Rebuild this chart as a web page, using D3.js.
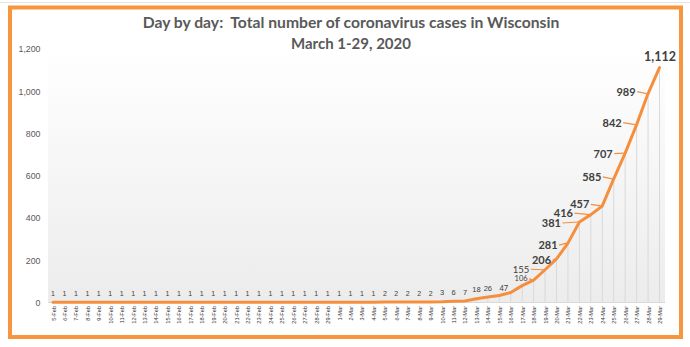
<!DOCTYPE html>
<html><head><meta charset="utf-8">
<script src="https://cdn.jsdelivr.net/npm/d3@7"></script>
<style>
html,body{margin:0;padding:0;background:#fff;}
svg{display:block;}
text.title{white-space:pre;}
</style></head>
<body>
<svg id="chart" width="690" height="347"></svg>
<script>
// ---------------- data ----------------
const titleLines = ["Day by day:  Total number of coronavirus cases in Wisconsin", "March 1-29, 2020"];
const dates = ["5-Feb","6-Feb","7-Feb","8-Feb","9-Feb","10-Feb","11-Feb","12-Feb","13-Feb","14-Feb",
  "15-Feb","16-Feb","17-Feb","18-Feb","19-Feb","20-Feb","21-Feb","22-Feb","23-Feb","24-Feb",
  "25-Feb","26-Feb","27-Feb","28-Feb","29-Feb","1-Mar","2-Mar","3-Mar","4-Mar","5-Mar",
  "6-Mar","7-Mar","8-Mar","9-Mar","10-Mar","11-Mar","12-Mar","13-Mar","14-Mar","15-Mar",
  "16-Mar","17-Mar","18-Mar","19-Mar","20-Mar","21-Mar","22-Mar","23-Mar","24-Mar","25-Mar",
  "26-Mar","27-Mar","28-Mar","29-Mar"];
const cases = [1,1,1,1,1,1,1,1,1,1,
  1,1,1,1,1,1,1,1,1,1,
  1,1,1,1,1,1,1,1,1,2,
  2,2,2,2,3,6,7,18,26,33,
  47,80,106,155,206,281,381,416,457,585,
  707,842,989,1112];
const unlabeled = ["15-Mar","17-Mar"];
const yTicks = [0,200,400,600,800,1000,1200];

// ---------------- layout / style ----------------
const W = 690, H = 347;
const svg = d3.select("#chart");
const FONT = "'Liberation Sans', Arial, sans-serif";
const TFONT = "Lato, 'Open Sans', sans-serif";
const orange = "#F58F3D";

// label placement for the callout labels (offsets from the point, font size)
const callouts = {
  "16-Mar": {dx:-7, dy:-4, fs:7.5, w:"normal"},
  "18-Mar": {dx:-12.5, dy:-1.5, fs:7.5, w:"normal", leader:true},
  "19-Mar": {dx:-24, dy:-0.5, fs:9.5, w:"normal", leader:true},
  "20-Mar": {dx:-15, dy:1, fs:11, w:"bold", leader:true},
  "21-Mar": {dx:-20, dy:2, fs:11, w:"bold", leader:true},
  "22-Mar": {dx:-28, dy:1, fs:11, w:"bold", leader:true},
  "23-Mar": {dx:-27.5, dy:-1.5, fs:11, w:"bold", leader:true},
  "24-Mar": {dx:-22.5, dy:-1.5, fs:11, w:"bold", leader:true},
  "25-Mar": {dx:-22, dy:-2, fs:11, w:"bold", leader:true},
  "26-Mar": {dx:-22, dy:0.5, fs:11, w:"bold", leader:true},
  "27-Mar": {dx:-24.5, dy:-2, fs:11, w:"bold", leader:true},
  "28-Mar": {dx:-22, dy:-2, fs:11, w:"bold", leader:true},
  "29-Mar": {dx:0.5, dy:-11, fs:12.5, w:"bold"}
};

// faint spreadsheet cell lines outside the frame
svg.append("line").attr("x1",0).attr("x2",W).attr("y1",2.5).attr("y2",2.5).attr("stroke","#e4e4e4");

// frame
svg.append("rect").attr("x",10).attr("y",7.5).attr("width",671).attr("height",329.5)
  .attr("fill","#fff").attr("stroke","#F7963F").attr("stroke-width",4);

const plot = {left:48, right:665, top:49, bottom:302.5};
const x = d3.scalePoint().domain(dates).range([53, 659.5]);
const y = d3.scaleLinear().domain([0,1200]).range([plot.bottom, plot.top]);

// plot-area gradient
const defs = svg.append("defs");
const grad = defs.append("linearGradient").attr("id","bg").attr("x1",0).attr("x2",0).attr("y1",0).attr("y2",1);
grad.append("stop").attr("offset","0%").attr("stop-color","#ffffff");
grad.append("stop").attr("offset","100%").attr("stop-color","#ececec");
svg.append("rect").attr("x",plot.left).attr("y",plot.top).attr("width",plot.right-plot.left)
  .attr("height",plot.bottom-plot.top).attr("fill","url(#bg)");

// title
const title = svg.append("g");
const tWidths = [417, 120];
const tY = [28, 49];
titleLines.forEach((t,i)=>{
  const el = title.append("text").attr("class","title").attr("x",351).attr("y",tY[i]).attr("text-anchor","middle")
    .attr("font-family",TFONT).attr("font-weight","bold").attr("font-size",16)
    .attr("fill","#595959").text(t);
  const len = el.node().getComputedTextLength();
  el.attr("font-size", 16*tWidths[i]/len);
});

// y axis
const yAxis = svg.append("g").attr("transform","translate(40.5,0)")
  .call(d3.axisLeft(y).tickValues(yTicks).tickFormat(d3.format(",")).tickSize(0).tickPadding(0));
yAxis.select(".domain").remove();
yAxis.selectAll("text").attr("font-family",FONT).attr("font-size",8.8).attr("fill","#595959");

// drop lines
svg.append("g").selectAll("line").data(dates).join("line")
  .attr("x1",d=>x(d)).attr("x2",d=>x(d))
  .attr("y1",(d,i)=>y(cases[i])).attr("y2",plot.bottom)
  .attr("stroke","#d9d9d9").attr("stroke-width",1);

// x axis
const xAxis = svg.append("g").attr("transform",`translate(0,${plot.bottom})`)
  .call(d3.axisBottom(x).tickSize(0).tickPadding(0));
xAxis.select(".domain").attr("stroke","#d9d9d9").attr("d",`M${plot.left},0H${plot.right}`);
xAxis.selectAll(".tick text")
  .attr("font-family",FONT).attr("font-size",5.6).attr("fill","#333333")
  .attr("text-anchor","end").attr("dy",null)
  .attr("transform","translate(2,3.5) rotate(-90)").attr("x",0).attr("y",0);

// line
const line = d3.line().x((d,i)=>x(dates[i])).y(d=>y(d));
svg.append("path").datum(cases).attr("d",line).attr("fill","none")
  .attr("stroke",orange).attr("stroke-width",3).attr("stroke-linejoin","round").attr("stroke-linecap","round");

// data labels
const fmt = d3.format(",");
const lab = svg.append("g");
dates.forEach((d,i)=>{
  if (unlabeled.includes(d)) return;
  const px = x(d), py = y(cases[i]);
  const c = callouts[d];
  if (!c) {
    lab.append("text").attr("x",px).attr("y",Math.min(py,plot.bottom)-9+2.5)
      .attr("text-anchor","middle").attr("font-family",FONT).attr("font-size",cases[i]>2?7.5:7)
      .attr("fill","#404040").text(fmt(cases[i]));
    return;
  }
  const cx = px + c.dx, cy = py + c.dy;
  const t = lab.append("text").attr("x",cx).attr("y",cy + c.fs*0.36)
    .attr("text-anchor","middle").attr("font-family",TFONT).attr("font-weight",c.w)
    .attr("font-size",c.fs).attr("fill","#404040").text(fmt(cases[i]));
  if (c.leader) {
    const w = t.node().getComputedTextLength();
    const x1 = cx + w/2 + 1.5, x2 = px - 1.5;
    if (x2 - x1 > 2) {
      lab.append("line").attr("x1",x1).attr("y1",cy).attr("x2",x2).attr("y2",py)
        .attr("stroke",orange).attr("stroke-width",1.2);
    }
  }
});
</script>
</body></html>
